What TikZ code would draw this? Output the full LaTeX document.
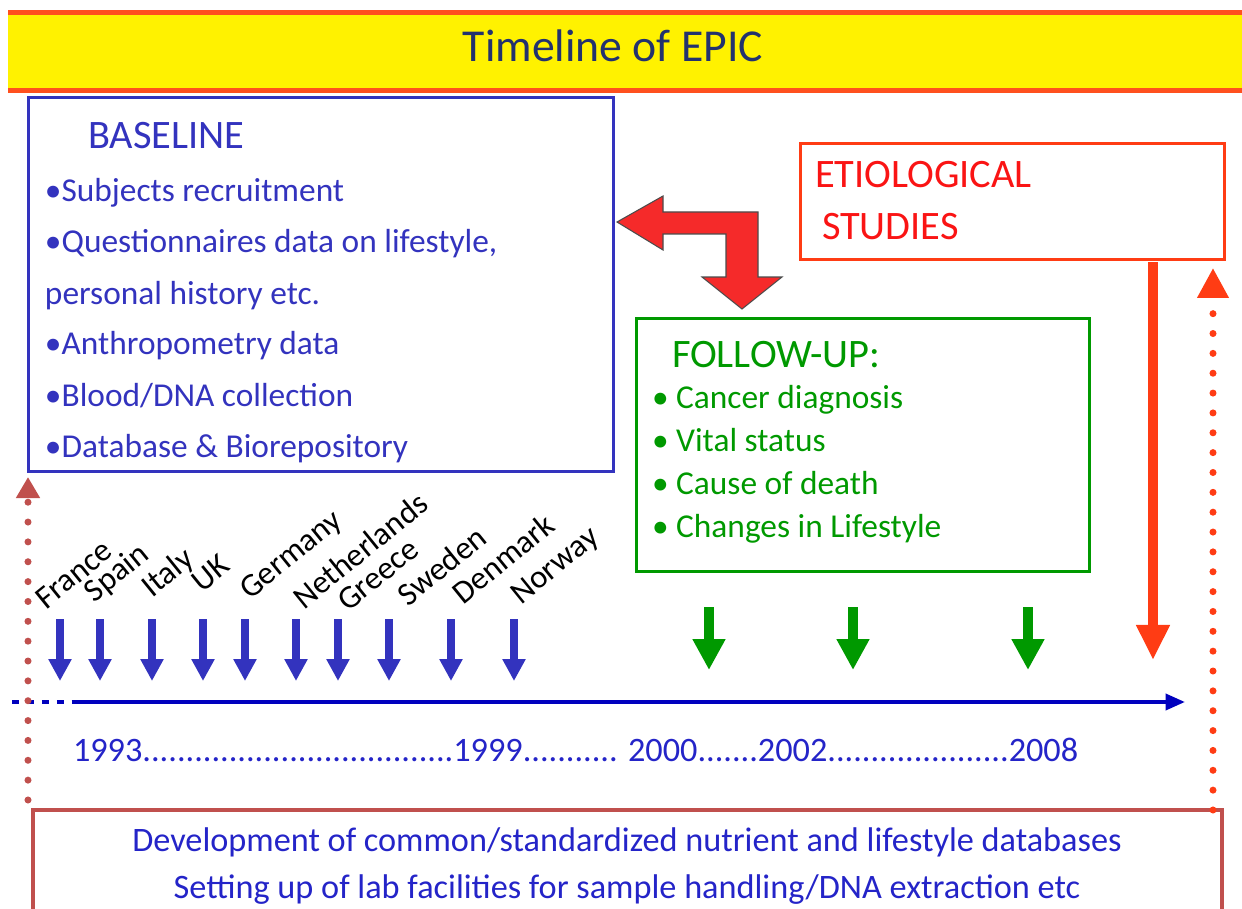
\documentclass[tikz,border=0pt]{standalone}
\usepackage{fontspec}
\setmainfont{Carlito}
\usetikzlibrary{arrows.meta, positioning, calc}

\definecolor{epicblue}{RGB}{51,51,190}
\definecolor{lineblue}{RGB}{0,0,190}
\definecolor{textblue}{RGB}{36,36,200}
\definecolor{titleblue}{RGB}{35,50,110}
\definecolor{fugreen}{RGB}{0,153,0}
\definecolor{etiored}{RGB}{255,60,20}
\definecolor{etiotext}{RGB}{250,20,20}
\definecolor{bannerred}{RGB}{255,80,30}
\definecolor{brick}{RGB}{192,80,77}
\definecolor{bentred}{RGB}{245,42,42}

\newcommand{\bodyfont}{\fontsize{19}{23}\selectfont}
\newcommand{\headfont}{\fontsize{23}{27}\selectfont}

\begin{document}
\begin{tikzpicture}[x=0.02cm, y=-0.02cm,
    every node/.style={inner sep=0pt, outer sep=0pt},
    panel/.style={draw, line width=1.7pt},
    bodytext/.style={anchor=base west, font=\bodyfont},
    headtext/.style={anchor=base west, font=\headfont},
    cntry/.style={anchor=base west, rotate=39, font=\fontsize{18.5}{22}\selectfont},
    bluedown/.style={draw=epicblue, line width=4.3pt, -{Triangle[length=12.5pt, width=12.5pt]}},
    greendown/.style={draw=fugreen, line width=6.2pt, -{Triangle[length=17.6pt, width=17.6pt]}},
    reddown/.style={draw=etiored, line width=5.7pt, -{Triangle[length=20pt, width=18pt]}},
    dotline/.style={line width=4pt, line cap=round, dash pattern=on 0pt off 11.3pt}]

    \clip (0,0) rectangle (1242,909);

    % title banner
    \fill[yellow] (8,15) rectangle (1242,88);
    \draw[bannerred, line width=2.3pt] (8,12.5) -- (1242,12.5);
    \draw[bannerred, line width=2.3pt] (8,90.5) -- (1242,90.5);
    \node[anchor=base, font=\fontsize{26}{30}\selectfont, text=titleblue] (title) at (613,62) {Timeline of EPIC};

    % boxes
    \node[panel, draw=epicblue, minimum width=11.72cm, minimum height=7.5cm] (baseline) at (321,284.5) {};
    \node[panel, draw=fugreen, minimum width=9.08cm, minimum height=5.08cm] (followup) at (863,445) {};
    \node[panel, draw=etiored, minimum width=8.5cm, minimum height=2.34cm] (etio) at (1012.5,201.5) {};
    \node[panel, draw=brick, line width=2.3pt, minimum width=23.78cm, minimum height=2.6cm] (devbox) at (627.5,875) {};

    % baseline text
    \node[headtext, text=epicblue] (basetitle) at (88,149) {BASELINE};
    \foreach \txt [count=\i] in {{•Subjects recruitment}, {•Questionnaires data on lifestyle,},
        {personal history etc.}, {•Anthropometry data}, {•Blood/DNA collection}, {•Database \& Biorepository}}
        \node[bodytext, text=epicblue] (base\i) at (45,{151+51*\i}) {\txt};

    % follow-up text
    \node[headtext, text=fugreen] (futitle) at (672,367) {FOLLOW-UP:};
    \foreach \txt [count=\i] in {Cancer diagnosis, Vital status, Cause of death, Changes in Lifestyle}
        \node[bodytext, text=fugreen] (fu\i) at (652,{365+43*\i}) {• \txt};

    % etiological text
    \node[headtext, text=etiotext] (etio1) at (815,188) {ETIOLOGICAL};
    \node[headtext, text=etiotext] (etio2) at (822,239) {STUDIES};

    % bottom text
    \node[anchor=base, font=\fontsize{19.5}{23}\selectfont, text=textblue] (dev1) at (627,851) {Development of common/standardized nutrient and lifestyle databases};
    \node[anchor=base, font=\fontsize{19.5}{23}\selectfont, text=textblue] (dev2) at (627,898) {Setting up of lab facilities for sample handling/DNA extraction etc};

    % bent arrow
    \filldraw[fill=bentred, draw=black!70, line width=0.6pt] (617,222) -- (663,196) -- (663,212) -- (758,212)
        -- (758,277) -- (782,277) -- (742,309) -- (702,277) -- (726,277) -- (726,234)
        -- (663,234) -- (663,250) -- cycle;

    % timeline
    \coordinate (tlstart) at (12,702);
    \coordinate (tlsolid) at (77,702);
    \coordinate (tlend) at (1185,702);
    \draw[lineblue, line width=2.3pt, dash pattern=on 4pt off 4.5pt] (tlstart) -- (tlsolid);
    \draw[lineblue, line width=2.3pt, -{Triangle[length=11pt, width=9pt]}] (tlsolid) -- (tlend);
    \node[anchor=base west, font=\fontsize{19.5}{23}\selectfont, text=textblue] (years) at (73,761)
        {1993....................................1999........... 2000.......2002.....................2008};

    % countries
    \foreach \x in {60,100,152,203,245,296,338,389,451,514}
        \draw[bluedown] (\x,619) -- (\x,681);
    \foreach \x/\y/\name in {46/610/France, 95/603/Spain, 152/598/Italy, 202/593/UK, 250/600/Germany,
        304/610/Netherlands, 348/612/Greece, 408/607/Sweden, 463/605/Denmark, 521/605/Norway}
        \node[cntry] (c-\name) at (\x,\y) {\name};

    % follow-up arrows
    \foreach \x in {709,853,1028}
        \draw[greendown] (\x,607) -- (\x,670);

    % etiological arrows
    \coordinate (redtop) at (1153,262);
    \coordinate (redtip) at (1153,660);
    \draw[reddown] (redtop) -- (redtip);
    \coordinate (rdotbot) at (1213,810);
    \coordinate (rdottop) at (1213,268);
    \draw[dotline, etiored, -{Triangle[length=17pt, width=17pt]}] (rdotbot) -- (rdottop);

    % left dotted arrow
    \coordinate (ldotbot) at (28,800);
    \coordinate (ldottop) at (28,477);
    \draw[dotline, brick, -{Triangle[length=12pt, width=13pt]}] (ldotbot) -- (ldottop);
\end{tikzpicture}
\end{document}
